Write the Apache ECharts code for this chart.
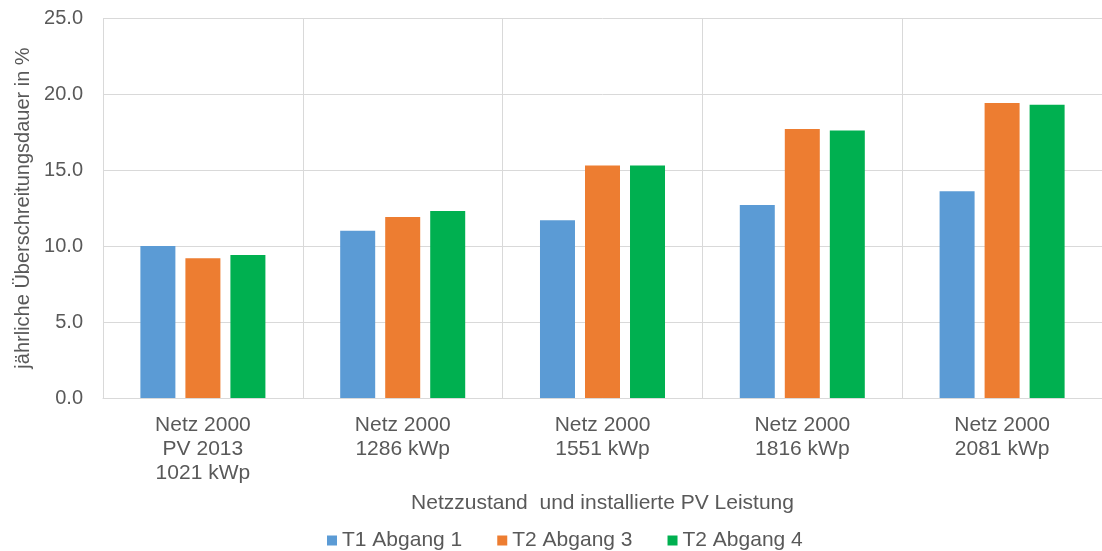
<!DOCTYPE html>
<html>
<head>
<meta charset="utf-8">
<script src="https://cdn.jsdelivr.net/npm/echarts@6/dist/echarts.min.js"></script>
<style>
  html, body { margin: 0; padding: 0; background: #fff; }
  #chart { width: 1102px; height: 551px; }
</style>
</head>
<body>
<div id="chart"></div>
<script>
// Kategorien und Werte
const categories = [
  "Netz 2000\nPV 2013\n1021 kWp",
  "Netz 2000\n1286 kWp",
  "Netz 2000\n1551 kWp",
  "Netz 2000\n1816 kWp",
  "Netz 2000\n2081 kWp"
];
const seriesNames = ["T1 Abgang 1", "T2 Abgang 3", "T2 Abgang 4"];
const t1Abgang1 = [10.0, 11.0, 11.7, 12.7, 13.6];
const t2Abgang3 = [9.2, 11.9, 15.3, 17.7, 19.4];
const t2Abgang4 = [9.4, 12.3, 15.3, 17.6, 19.3];
const colors = ["#5B9BD5", "#ED7D31", "#00B050"];

const textColor = "#595959";
const font = "Liberation Sans, Arial, sans-serif";

const chart = echarts.init(document.getElementById("chart"));

const option = {
  animation: false,
  textStyle: { fontFamily: font, color: textColor },
  grid: { left: 103, top: 18, width: 1005, height: 380 },
  legend: {
    left: 322,
    top: 525,
    itemWidth: 10,
    itemHeight: 10,
    itemGap: 35,
    icon: "rect",
    data: seriesNames,
    textStyle: { color: textColor, fontSize: 21, fontFamily: font }
  },
  xAxis: {
    type: "category",
    data: categories,
    name: "Netzzustand  und installierte PV Leistung",
    nameLocation: "middle",
    nameGap: 95,
    nameTextStyle: { color: textColor, fontSize: 21, fontFamily: font, verticalAlign: "top" },
    axisLine: { show: true, lineStyle: { color: "#d9d9d9", width: 1 } },
    axisTick: { show: false },
    splitLine: { show: true, lineStyle: { color: "#d9d9d9", width: 1 } },
    axisLabel: {
      color: textColor,
      fontSize: 21,
      fontFamily: font,
      margin: 15,
      lineHeight: 24
    }
  },
  yAxis: {
    type: "value",
    min: 0,
    max: 25,
    interval: 5,
    name: "jährliche Überschreitungsdauer in %",
    nameLocation: "middle",
    nameGap: 66,
    nameTextStyle: { color: textColor, fontSize: 20, fontFamily: font },
    axisLine: { show: false },
    axisTick: { show: false },
    splitLine: { lineStyle: { color: "#d9d9d9", width: 1 } },
    axisLabel: {
      color: textColor,
      fontSize: 20,
      fontFamily: font,
      margin: 20,
      formatter: (v) => v.toFixed(1)
    }
  },
  series: [t1Abgang1, t2Abgang3, t2Abgang4].map((vals, i) => ({
    name: seriesNames[i],
    type: "bar",
    data: vals,
    barWidth: 35,
    barGap: "28.6%",
    itemStyle: { color: colors[i] }
  }))
};

chart.setOption(option);
</script>
</body>
</html>
